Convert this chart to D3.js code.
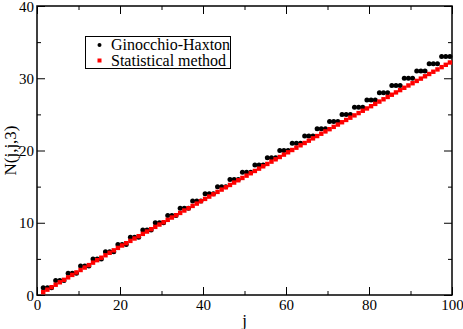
<!DOCTYPE html>
<html>
<head>
<meta charset="utf-8">
<script src="https://cdn.jsdelivr.net/npm/d3@7"></script>
<style>
  body { margin: 0; background: #fff; }
  svg text { font-family: 'Liberation Serif', 'Times New Roman', serif; }
</style>
</head>
<body>
<div id="app"></div>
<script>
const width = 463;
const height = 329;
const serif = "'Liberation Serif', 'Times New Roman', serif";

// j = 3/2 ... 199/2
const jValues = [
  1.5, 2.5, 3.5, 4.5, 5.5, 6.5, 7.5, 8.5, 9.5, 10.5,
  11.5, 12.5, 13.5, 14.5, 15.5, 16.5, 17.5, 18.5, 19.5, 20.5,
  21.5, 22.5, 23.5, 24.5, 25.5, 26.5, 27.5, 28.5, 29.5, 30.5,
  31.5, 32.5, 33.5, 34.5, 35.5, 36.5, 37.5, 38.5, 39.5, 40.5,
  41.5, 42.5, 43.5, 44.5, 45.5, 46.5, 47.5, 48.5, 49.5, 50.5,
  51.5, 52.5, 53.5, 54.5, 55.5, 56.5, 57.5, 58.5, 59.5, 60.5,
  61.5, 62.5, 63.5, 64.5, 65.5, 66.5, 67.5, 68.5, 69.5, 70.5,
  71.5, 72.5, 73.5, 74.5, 75.5, 76.5, 77.5, 78.5, 79.5, 80.5,
  81.5, 82.5, 83.5, 84.5, 85.5, 86.5, 87.5, 88.5, 89.5, 90.5,
  91.5, 92.5, 93.5, 94.5, 95.5, 96.5, 97.5, 98.5, 99.5,
];

const ginocchioHaxton = [
  1, 1, 1, 2, 2, 2, 3, 3, 3, 4, 4, 4, 5, 5, 5, 6, 6, 6, 7, 7,
  7, 8, 8, 8, 9, 9, 9, 10, 10, 10, 11, 11, 11, 12, 12, 12, 13, 13, 13, 14,
  14, 14, 15, 15, 15, 16, 16, 16, 17, 17, 17, 18, 18, 18, 19, 19, 19, 20, 20, 20,
  21, 21, 21, 22, 22, 22, 23, 23, 23, 24, 24, 24, 25, 25, 25, 26, 26, 26, 27, 27,
  27, 28, 28, 28, 29, 29, 29, 30, 30, 30, 31, 31, 31, 32, 32, 32, 33, 33, 33,
];

const statistical = [
  0.40, 0.74, 1.08, 1.42, 1.76, 2.10, 2.44, 2.78, 3.12, 3.46,
  3.80, 4.14, 4.48, 4.82, 5.16, 5.50, 5.84, 6.18, 6.52, 6.85,
  7.17, 7.49, 7.82, 8.14, 8.46, 8.78, 9.11, 9.43, 9.75, 10.07,
  10.40, 10.72, 11.04, 11.36, 11.69, 12.01, 12.33, 12.65, 12.98, 13.30,
  13.62, 13.94, 14.27, 14.59, 14.91, 15.23, 15.56, 15.88, 16.20, 16.52,
  16.85, 17.17, 17.49, 17.81, 18.14, 18.46, 18.78, 19.10, 19.43, 19.75,
  20.07, 20.39, 20.72, 21.04, 21.36, 21.68, 22.00, 22.32, 22.64, 22.95,
  23.27, 23.59, 23.91, 24.23, 24.54, 24.86, 25.18, 25.50, 25.82, 26.13,
  26.45, 26.77, 27.09, 27.41, 27.72, 28.04, 28.36, 28.68, 29.00, 29.31,
  29.63, 29.95, 30.27, 30.59, 30.90, 31.22, 31.54, 31.86, 32.18,
];

const xMajorTicks = [0, 20, 40, 60, 80, 100];
const xMinorTicks = [10, 30, 50, 70, 90];
const yMajorTicks = [0, 10, 20, 30, 40];
const yMinorTicks = [5, 15, 25, 35];
const legendLabels = ['Ginocchio-Haxton', 'Statistical method'];

const margin = {top: 6, right: 11, bottom: 34, left: 37};

const x = d3.scaleLinear().domain([0, 100]).range([margin.left, width - margin.right]);
const y = d3.scaleLinear().domain([0, 40]).range([height - margin.bottom, margin.top]);

const svg = d3.create('svg')
  .attr('width', width)
  .attr('height', height)
  .attr('viewBox', [0, 0, width, height])
  .attr('font-family', serif);

// ticks on all four sides, pointing inward
function tickAxis(axis, major) {
  return (g)=>{
    g.call(axis.tickValues(major).tickSizeInner(8).tickSizeOuter(0).tickPadding(3));
    g.attr('font-family', serif);
    g.select('.domain').remove();
    g.selectAll('.tick line').attr('stroke', '#000');
    g.selectAll('.tick text').attr('font-size', 15).attr('fill', '#000');
  };
}

const bottom = height - margin.bottom;
const right = width - margin.right;

svg.append('g')
  .attr('transform', `translate(0,${bottom})`)
  .call(tickAxis(d3.axisBottom(x).tickFormat(d3.format('d')), xMajorTicks))
  .call((g)=>g.selectAll('.tick line').attr('y2', -8))
  .call((g)=>g.selectAll('.tick text').attr('y', 4));

svg.append('g')
  .attr('transform', `translate(${margin.left},0)`)
  .call(tickAxis(d3.axisLeft(y).tickFormat(d3.format('d')), yMajorTicks))
  .call((g)=>g.selectAll('.tick line').attr('x2', 8))
  .call((g)=>g.selectAll('.tick text').attr('x', -3).attr('dy', '0.34em'));

const minor = svg.append('g').attr('stroke', '#000').attr('stroke-width', 1);
minor.selectAll('line.xb').data(xMinorTicks).join('line')
  .attr('x1', (d)=>x(d) + 0.5).attr('x2', (d)=>x(d) + 0.5)
  .attr('y1', bottom).attr('y2', bottom - 4);
minor.selectAll('line.xt').data(xMajorTicks.concat(xMinorTicks)).join('line')
  .attr('x1', (d)=>x(d) + 0.5).attr('x2', (d)=>x(d) + 0.5)
  .attr('y1', margin.top).attr('y2', (d)=>margin.top + (xMajorTicks.includes(d) ? 8 : 4));
minor.selectAll('line.yl').data(yMinorTicks).join('line')
  .attr('x1', margin.left).attr('x2', margin.left + 4)
  .attr('y1', (d)=>y(d) + 0.5).attr('y2', (d)=>y(d) + 0.5);
minor.selectAll('line.yr').data(yMajorTicks.concat(yMinorTicks)).join('line')
  .attr('x1', right).attr('x2', (d)=>right - (yMajorTicks.includes(d) ? 8 : 4))
  .attr('y1', (d)=>y(d) + 0.5).attr('y2', (d)=>y(d) + 0.5);

// frame
svg.append('rect')
  .attr('x', margin.left)
  .attr('y', margin.top)
  .attr('width', right - margin.left)
  .attr('height', bottom - margin.top)
  .attr('fill', 'none')
  .attr('stroke', '#000')
  .attr('stroke-width', 1.5);

// axis titles
svg.append('text')
  .attr('x', (margin.left + right) / 2)
  .attr('y', height - 3)
  .attr('text-anchor', 'middle')
  .attr('font-family', serif)
  .attr('font-size', 17)
  .text('j');

svg.append('text')
  .attr('transform', `translate(16,${(margin.top + bottom) / 2}) rotate(-90)`)
  .attr('text-anchor', 'middle')
  .attr('font-family', serif)
  .attr('font-size', 17)
  .text('N(j,j,3)');

// series
svg.append('g')
  .attr('fill', '#000')
  .selectAll('circle')
  .data(jValues)
  .join('circle')
  .attr('cx', (d)=>x(d))
  .attr('cy', (d, i)=>y(ginocchioHaxton[i]))
  .attr('r', 2.5);

svg.append('g')
  .attr('fill', '#f00')
  .selectAll('rect')
  .data(jValues)
  .join('rect')
  .attr('x', (d)=>x(d) - 2.2)
  .attr('y', (d, i)=>y(statistical[i]) - 2.2)
  .attr('width', 4.4)
  .attr('height', 4.4);

// legend
const legend = svg.append('g');
legend.append('rect')
  .attr('x', 85.5).attr('y', 36.5)
  .attr('width', 145).attr('height', 32)
  .attr('fill', '#fff')
  .attr('stroke', '#000')
  .attr('stroke-width', 1);

legendLabels.forEach((label, i)=>{
  const cy = 45 + i * 15.5;
  if (i === 0) {
    legend.append('circle').attr('cx', 99.5).attr('cy', cy).attr('r', 2).attr('fill', '#000');
  } else {
    legend.append('rect').attr('x', 97.5).attr('y', cy - 2).attr('width', 4).attr('height', 4).attr('fill', '#f00');
  }
  legend.append('text')
    .attr('x', 111)
    .attr('y', cy + 5)
    .attr('font-family', serif)
    .attr('font-size', 16)
    .text(label);
});

document.getElementById('app').appendChild(svg.node());
</script>
</body>
</html>
